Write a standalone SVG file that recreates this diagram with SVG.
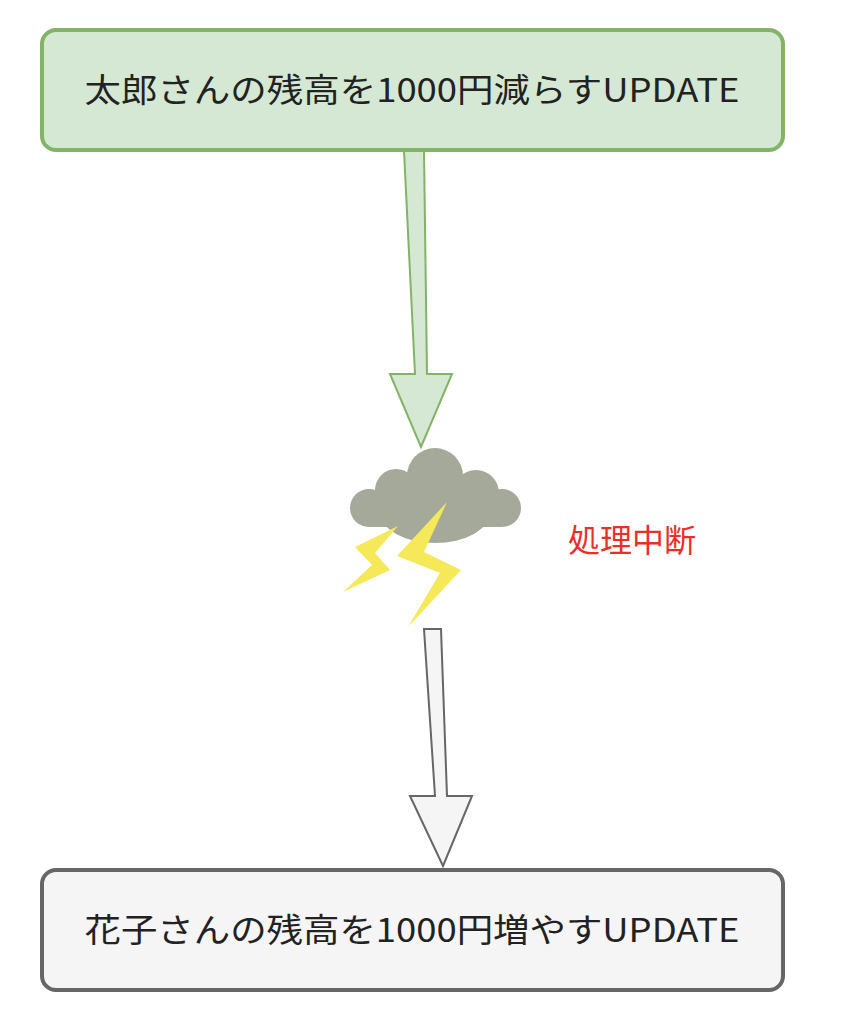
<svg xmlns="http://www.w3.org/2000/svg" width="848" height="1032" viewBox="0 0 848 1032">
<style>
text{font-family:"Noto Sans CJK JP","Liberation Sans",sans-serif;text-anchor:middle}
.t{font-size:33px;fill:#222}
</style>
<rect width="848" height="1032" fill="#fff"/>
<g id="connectors">
<polygon points="404,151 424,151 427,374 452,374 421,447 390,374 415,374" fill="#d5e8d4" stroke="#82b366" stroke-width="2"/>
<polygon points="424,629 441,629 447,796 472,796 443,866 410,796 435,796" fill="#f5f5f5" stroke="#666" stroke-width="2"/>
</g>
<g id="box1">
<rect x="42" y="30" width="741" height="120" rx="14" fill="#d5e8d4" stroke="#82b366" stroke-width="4"/>
<text class="t" x="412" y="102" textLength="655" lengthAdjust="spacingAndGlyphs">太郎さんの残高を1000円減らすUPDATE</text>
</g>
<g id="storm">
<g fill="#a5a99a">
<circle cx="369" cy="508" r="19"/>
<circle cx="396" cy="490" r="21"/>
<circle cx="435" cy="476" r="28"/>
<circle cx="476" cy="493" r="23"/>
<circle cx="502" cy="508" r="19"/>
<ellipse cx="435" cy="512" rx="55" ry="31"/>
<rect x="369" y="490" width="133" height="37"/>
</g>
<g fill="#f5e95a">
<polygon points="447,502 397,556 440,573 408,627 461,570 424,552"/>
<polygon points="398,526 355,547 372,565 343,592 390,570 375,553"/>
</g>
</g>
<g id="label">
<text x="632" y="552" font-size="32" fill="#e8302a">処理中断</text>
</g>
<g id="box2">
<rect x="42" y="870" width="741" height="120" rx="14" fill="#f5f5f5" stroke="#666" stroke-width="4"/>
<text class="t" x="412" y="942" fill="#333" textLength="655" lengthAdjust="spacingAndGlyphs">花子さんの残高を1000円増やすUPDATE</text>
</g>
</svg>
